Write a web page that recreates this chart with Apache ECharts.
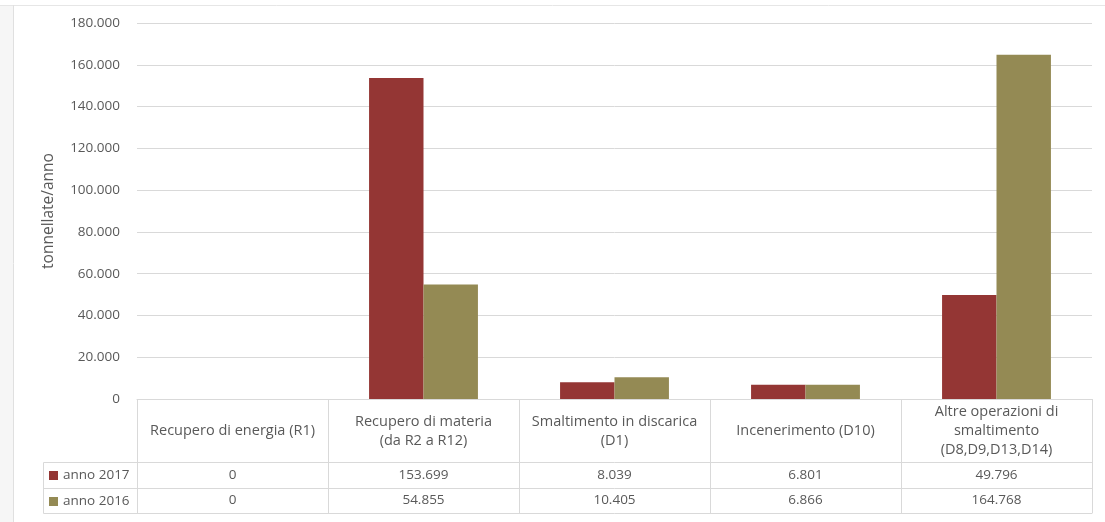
<!DOCTYPE html>
<html>
<head>
<meta charset="utf-8">
<script src="https://cdn.jsdelivr.net/npm/echarts@6/dist/echarts.min.js"></script>
<style>
  html, body { margin: 0; padding: 0; background: #fff; }
  #chart { width: 1105px; height: 522px; }
</style>
</head>
<body>
<div id="chart"></div>
<script>
const categories = [
  'Recupero di energia (R1)',
  'Recupero di materia\n(da R2 a R12)',
  'Smaltimento in discarica\n(D1)',
  'Incenerimento (D10)',
  'Altre operazioni di\nsmaltimento\n(D8,D9,D13,D14)'
]
const seriesNames = ['anno 2017', 'anno 2016']
const values2017 = [0, 153699, 8039, 6801, 49796]
const values2016 = [0, 54855, 10405, 6866, 164768]
const yTicks = { min: 0, max: 180000, interval: 20000 }

const textColor = '#595959'
const lineColor = '#d9d9d9'
const font = 'Open Sans'
const fSize = 13.5

// 153699 -> "153.699"
function fmt (v) {
  return String(v).replace(/\B(?=(\d{3})+(?!\d))/g, '.')
}

const tableLine = { show: true, lineStyle: { color: lineColor, width: 1 } }

const option = {
  animation: false,
  color: ['#943634', '#948A54'],
  textStyle: { fontFamily: font },
  grid: {
    left: 137,
    right: 13,
    top: 23,
    bottom: 123
  },
  legend: {
    orient: 'vertical',
    left: 44,
    top: 462,
    icon: 'rect',
    itemWidth: 9,
    itemHeight: 9,
    itemGap: 9,
    selectedMode: false,
    textStyle: { color: textColor, fontSize: fSize, fontFamily: font, lineHeight: 17 },
    data: seriesNames
  },
  xAxis: [
    {
      type: 'category',
      data: categories,
      position: 'bottom',
      axisLine: tableLine,
      axisTick: { show: true, interval: 0, length: 114, lineStyle: { color: lineColor } },
      axisLabel: {
        interval: 0,
        color: textColor,
        fontSize: 14.5,
        fontFamily: font,
        lineHeight: 19,
        margin: 32,
        verticalAlign: 'middle',
        align: 'center'
      }
    },
    {
      type: 'category',
      data: categories,
      position: 'bottom',
      offset: 63,
      axisLine: tableLine,
      axisTick: { show: false },
      axisLabel: {
        interval: 0,
        color: textColor,
        fontSize: fSize,
        fontFamily: font,
        margin: 13,
        verticalAlign: 'middle',
        formatter: (v, i) => fmt(values2017[i])
      }
    },
    {
      type: 'category',
      data: categories,
      position: 'bottom',
      offset: 89,
      axisLine: tableLine,
      axisTick: { show: false },
      axisLabel: {
        interval: 0,
        color: textColor,
        fontSize: fSize,
        fontFamily: font,
        margin: 12,
        verticalAlign: 'middle',
        formatter: (v, i) => fmt(values2016[i])
      }
    },
    {
      type: 'category',
      data: categories,
      position: 'bottom',
      offset: 114,
      axisLine: tableLine,
      axisTick: { show: false },
      axisLabel: { show: false }
    }
  ],
  yAxis: {
    type: 'value',
    min: yTicks.min,
    max: yTicks.max,
    interval: yTicks.interval,
    name: 'tonnellate/anno',
    nameLocation: 'middle',
    nameGap: 80,
    nameTextStyle: { color: textColor, fontSize: 15.5, fontFamily: font },
    axisLine: { show: false },
    axisTick: { show: false },
    axisLabel: {
      color: textColor,
      fontSize: fSize,
      fontFamily: font,
      margin: 17,
      formatter: v => fmt(v)
    },
    splitLine: { lineStyle: { color: lineColor, width: 1 } }
  },
  series: [
    {
      name: seriesNames[0],
      type: 'bar',
      data: values2017,
      barCategoryGap: '43%',
      barGap: '0%'
    },
    {
      name: seriesNames[1],
      type: 'bar',
      data: values2016,
      barCategoryGap: '43%',
      barGap: '0%'
    }
  ],
  graphic: [
    // outer frame
    { type: 'rect', silent: true, shape: { x: 0, y: 5, width: 13, height: 517 }, style: { fill: '#f6f6f6' } },
    { type: 'line', silent: true, shape: { x1: 0, y1: 5.5, x2: 1105, y2: 5.5 }, style: { stroke: '#e6e6e6', lineWidth: 1 } },
    { type: 'line', silent: true, shape: { x1: 13.5, y1: 5, x2: 13.5, y2: 522 }, style: { stroke: '#e0e0e0', lineWidth: 1 } },
    // legend key box of the data table
    { type: 'line', silent: true, shape: { x1: 43.5, y1: 462.5, x2: 137, y2: 462.5 }, style: { stroke: lineColor, lineWidth: 1 } },
    { type: 'line', silent: true, shape: { x1: 43.5, y1: 488.5, x2: 137, y2: 488.5 }, style: { stroke: lineColor, lineWidth: 1 } },
    { type: 'line', silent: true, shape: { x1: 43.5, y1: 513.5, x2: 137, y2: 513.5 }, style: { stroke: lineColor, lineWidth: 1 } },
    { type: 'line', silent: true, shape: { x1: 43.5, y1: 462.5, x2: 43.5, y2: 513.5 }, style: { stroke: lineColor, lineWidth: 1 } }
  ]
}

const myChart = echarts.init(document.getElementById('chart'))
myChart.setOption(option)
</script>
</body>
</html>
